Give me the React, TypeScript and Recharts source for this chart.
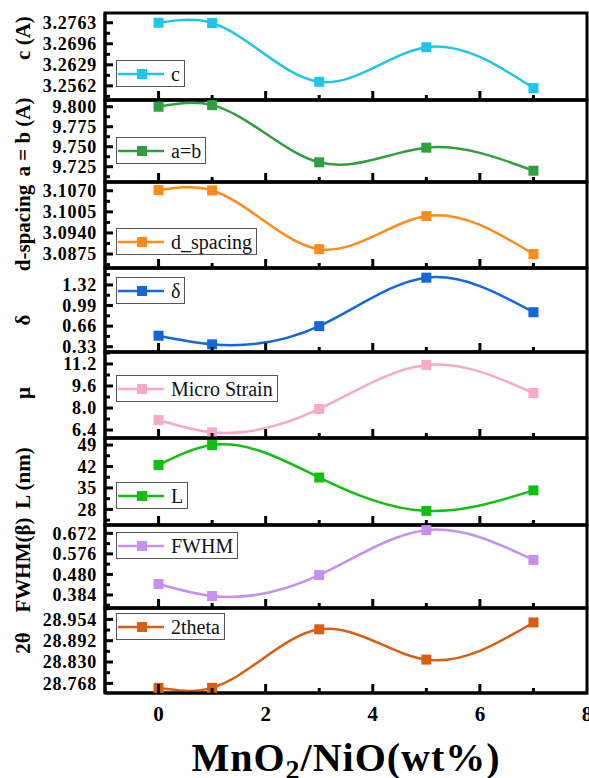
import React from 'react';
import { LineChart, Line, XAxis, YAxis, Legend, ReferenceArea } from 'recharts';

// composition on the x axis, same for every panel
const xs = [0, 1, 3, 5, 7];

// values
const cValues = [3.2763, 3.2762, 3.2575, 3.2685, 3.2555];
const abValues = [9.8, 9.802, 9.7305, 9.7488, 9.72];
const dValues = [3.1072, 3.1071, 3.089, 3.0992, 3.0875];
const deltaValues = [0.506, 0.368, 0.66, 1.437, 0.883];
const strainValues = [7.13, 6.23, 7.93, 11.13, 9.09];
const lValues = [42.5, 49.0, 38.4, 27.5, 34.2];
const fwhmValues = [0.435, 0.379, 0.477, 0.687, 0.548];
const thetaValues = [28.755, 28.755, 28.925, 28.837, 28.945];

// major tick labels of each y axis
const cTicks = [3.2562, 3.2629, 3.2696, 3.2763];
const abTicks = [9.725, 9.75, 9.775, 9.8];
const dTicks = [3.0875, 3.094, 3.1005, 3.107];
const deltaTicks = [0.33, 0.66, 0.99, 1.32];
const strainTicks = [6.4, 8.0, 9.6, 11.2];
const lTicks = [28, 35, 42, 49];
const fwhmTicks = [0.384, 0.48, 0.576, 0.672];
const thetaTicks = [28.768, 28.83, 28.892, 28.954];

const xTicks = [0, 1, 2, 3, 4, 5, 6, 7, 8];

const seriesNames = ['c', 'a=b', 'd_spacing', '\u03b4', 'Micro Strain', 'L', 'FWHM', '2theta'];
const axisTitles = ['c (A)', 'a = b (A)', 'd-spacing', '\u03b4', '\u03bc', 'L (nm)', 'FWHM(\u03b2)', '2\u03b8'];

const panels = [
  { values: cValues, ticks: cTicks, domain: [3.2517, 3.2794], digits: 4, color: '#1ec6ea' },
  { values: abValues, ticks: abTicks, domain: [9.7059, 9.8084], digits: 3, color: '#2f9f3f' },
  { values: dValues, ticks: dTicks, domain: [3.0832, 3.1097], digits: 4, color: '#ff8c1a' },
  { values: deltaValues, ticks: deltaTicks, domain: [0.245, 1.592], digits: 2, color: '#1467d8' },
  { values: strainValues, ticks: strainTicks, domain: [5.82, 12.07], digits: 1, color: '#f8a9c9' },
  { values: lValues, ticks: lTicks, domain: [22.9, 51.3], digits: 0, color: '#10c010' },
  { values: fwhmValues, ticks: fwhmTicks, domain: [0.323, 0.711], digits: 3, color: '#c590f0' },
  { values: thetaValues, ticks: thetaTicks, domain: [28.74, 28.987], digits: 3, color: '#d95e10' },
].map((p, i) => ({ ...p, name: seriesNames[i], title: axisTitles[i] }));

// layout (pixels)
const PANEL_TOPS = [13, 100, 182, 268, 352, 438, 525, 608, 693];
const LEGEND_OFFSETS = [47, 37, 46, 9, 23, 44, 7, 5];
const TITLE_CENTERS = [38, 137, 228, 320, 393, 478, 565, 643];
const PAD = 3;
const W = 589;
const SERIF = '"Liberation Serif", "Times New Roman", serif';

function withMinor(majors: number[], domain: number[]) {
  const step = majors[1] - majors[0];
  const all = [...majors];
  for (let i = -1; i < majors.length; i++) {
    const m = majors[0] + step * (i + 0.5);
    if (m > domain[0] && m < domain[1]) all.push(m);
  }
  return all.sort((a, b) => a - b);
}

// natural cubic spline parametrised by x (like Origin's spline connector)
function xSpline(context: any) {
  let px: number[] = [];
  let py: number[] = [];
  return {
    areaStart() {},
    areaEnd() {},
    lineStart() {
      px = [];
      py = [];
    },
    point(x: number, y: number) {
      px.push(+x);
      py.push(+y);
    },
    lineEnd() {
      const n = px.length;
      if (!n) return;
      context.moveTo(px[0], py[0]);
      if (n === 1) return;
      const h: number[] = [];
      for (let i = 0; i < n - 1; i++) h.push(px[i + 1] - px[i]);
      const M = new Array(n).fill(0);
      if (n > 2) {
        const a: number[] = [], b: number[] = [], c: number[] = [], d: number[] = [];
        for (let i = 1; i < n - 1; i++) {
          a.push(h[i - 1]);
          b.push(2 * (h[i - 1] + h[i]));
          c.push(h[i]);
          d.push(6 * ((py[i + 1] - py[i]) / h[i] - (py[i] - py[i - 1]) / h[i - 1]));
        }
        const m = b.length;
        for (let i = 1; i < m; i++) {
          const w = a[i] / b[i - 1];
          b[i] -= w * c[i - 1];
          d[i] -= w * d[i - 1];
        }
        const sol = new Array(m).fill(0);
        sol[m - 1] = d[m - 1] / b[m - 1];
        for (let i = m - 2; i >= 0; i--) sol[i] = (d[i] - c[i] * sol[i + 1]) / b[i];
        for (let i = 0; i < m; i++) M[i + 1] = sol[i];
      }
      for (let i = 0; i < n - 1; i++) {
        const hh = h[i];
        const s = (py[i + 1] - py[i]) / hh;
        const d0 = s - (hh * (2 * M[i] + M[i + 1])) / 6;
        const d1 = s + (hh * (M[i] + 2 * M[i + 1])) / 6;
        context.bezierCurveTo(
          px[i] + hh / 3,
          py[i] + (d0 * hh) / 3,
          px[i + 1] - hh / 3,
          py[i + 1] - (d1 * hh) / 3,
          px[i + 1],
          py[i + 1]
        );
      }
    },
  };
}

const XTick = (props: any) => {
  const { x, y, payload, showLabel } = props;
  const v = payload.value;
  const major = v % 2 === 0;
  return (
    <g>
      {v < 8 && (
        <line x1={x} x2={x} y1={y} y2={y - (major ? 9 : 5)} stroke="#000" strokeWidth={3} />
      )}
      {showLabel && major && (
        <text x={x} y={y + 28} textAnchor="middle" fontFamily={SERIF} fontWeight="bold" fontSize={21} fill="#000">
          {v}
        </text>
      )}
    </g>
  );
};

const YTick = (props: any) => {
  const { x, y, payload, majors, digits } = props;
  const v = payload.value;
  const major = majors.some((m: number) => Math.abs(m - v) < 1e-7);
  return (
    <g>
      <line x1={x} x2={x + (major ? 8 : 5)} y1={y} y2={y} stroke="#000" strokeWidth={3} />
      {major && (
        <text x={x - 8} y={y} dy="0.35em" textAnchor="end" fontFamily={SERIF} fontWeight="bold" fontSize={18} letterSpacing={0.8} fill="#000">
          {v.toFixed(digits)}
        </text>
      )}
    </g>
  );
};

function LegendBox({ name, color }: { name: string; color: string }) {
  return (
    <div
      style={{
        display: 'inline-flex',
        alignItems: 'center',
        height: 27,
        boxSizing: 'border-box',
        border: '1px solid #555',
        background: '#fff',
        padding: '0 4px 0 1px',
        fontFamily: SERIF,
        fontSize: 20,
        color: '#111',
        lineHeight: 1,
        whiteSpace: 'nowrap',
      }}
    >
      <svg width={46} height={12}>
        <line x1={0} x2={46} y1={6} y2={6} stroke={color} strokeWidth={2.5} />
        <rect x={19} y={1} width={10} height={10} fill={color} />
      </svg>
      <span style={{ marginLeft: 7 }}>{name}</span>
    </div>
  );
}

function Panel({ index }: { index: number }) {
  const p = panels[index];
  const last = index === panels.length - 1;
  const top = PANEL_TOPS[index];
  const h = PANEL_TOPS[index + 1] - top;
  const data = xs.map((x, k) => ({ x, v: p.values[k] }));
  const yTicks = withMinor(p.ticks, p.domain);
  const axisH = last ? 85 : 1;
  const color = p.color;

  return (
    <div style={{ position: 'absolute', left: 0, top: top - PAD }}>
      <LineChart
        width={W}
        height={h + PAD + (last ? axisH : PAD)}
        data={data}
        margin={{ top: PAD, right: 2, bottom: last ? 0 : PAD - 1, left: 0 }}
      >
        <ReferenceArea
          x1={-1}
          x2={8}
          y1={p.domain[0]}
          y2={p.domain[1]}
          fill="none"
          stroke="#000"
          strokeWidth={3}
          ifOverflow="visible"
        />
        <XAxis
          dataKey="x"
          type="number"
          domain={[-1, 8]}
          ticks={xTicks}
          interval={0}
          tick={<XTick showLabel={last} />}
          tickLine={false}
          tickSize={0}
          tickMargin={0}
          axisLine={{ stroke: '#000', strokeWidth: 3 }}
          height={axisH}
          label={
            last
              ? {
                  content: (lp: any) => {
                    const vb = lp.viewBox || {};
                    return (
                      <text
                        x={(vb.x ?? 105) + (vb.width ?? 482) / 2}
                        y={(vb.y ?? 0) + 78}
                        textAnchor="middle"
                        fontFamily={SERIF}
                        fontWeight="bold"
                        fontSize={40}
                        letterSpacing={1}
                        fill="#000"
                      >
                        MnO
                        <tspan fontSize={28} dy={8}>2</tspan>
                        <tspan dy={-8}>/NiO(wt%)</tspan>
                      </text>
                    );
                  },
                }
              : undefined
          }
        />
        <YAxis
          type="number"
          domain={p.domain}
          ticks={yTicks}
          interval={0}
          tick={<YTick majors={p.ticks} digits={p.digits} />}
          tickLine={false}
          tickSize={0}
          tickMargin={0}
          axisLine={{ stroke: '#000', strokeWidth: 3 }}
          width={105}
          label={{
            content: () => {
              const cy = TITLE_CENTERS[index] - (top - PAD);
              return (
                <text
                  x={23}
                  y={cy}
                  transform={`rotate(-90, 23, ${cy})`}
                  textAnchor="middle"
                  dominantBaseline="central"
                  fontFamily={SERIF}
                  fontWeight="bold"
                  fontSize={21}
                  fill="#000"
                >
                  {p.title}
                </text>
              );
            },
          }}
        />
        <Legend
          layout="horizontal"
          verticalAlign="middle"
          align="center"
          wrapperStyle={{ left: 116, top: PAD + LEGEND_OFFSETS[index], width: 'auto' }}
          content={() => <LegendBox name={p.name} color={color} />}
        />
        <Line
          type={xSpline as any}
          dataKey="v"
          name={p.name}
          stroke={color}
          strokeWidth={2.5}
          dot={(dp: any) => (
            <rect key={`d-${dp.index}`} x={dp.cx - 5} y={dp.cy - 5} width={10} height={10} fill={color} />
          )}
          activeDot={false}
          isAnimationActive={false}
        />
      </LineChart>
    </div>
  );
}

export default function App() {
  return (
    <div style={{ position: 'absolute', left: 0, top: 0, width: W, height: 778, background: '#fff', overflow: 'hidden' }}>
      <style>{'.recharts-surface{overflow:visible}'}</style>
      {panels.map((_, i) => (
        <Panel key={i} index={i} />
      ))}
    </div>
  );
}
